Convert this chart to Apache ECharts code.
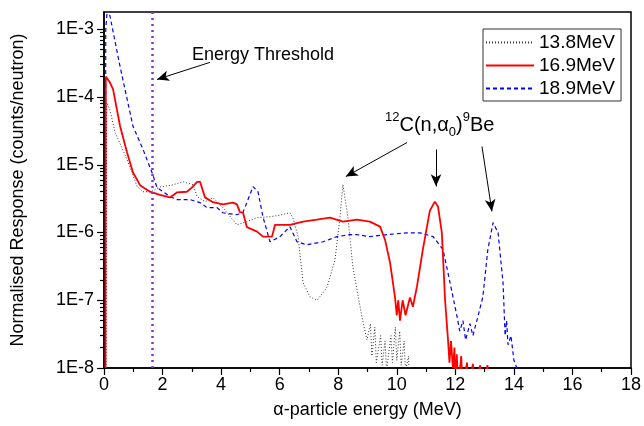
<!DOCTYPE html>
<html>
<head>
<meta charset="utf-8">
<script src="https://cdn.jsdelivr.net/npm/echarts@6/dist/echarts.min.js"></script>
<style>
  html, body { margin: 0; padding: 0; background: #fff; }
  #main { width: 644px; height: 426px; }
</style>
</head>
<body>
<div id="main"></div>
<script>
// series names (legend)
var seriesNames = ["13.8MeV", "16.9MeV", "18.9MeV"];

// [alpha energy MeV, counts/neutron]
var data138 = [
  [0.07, 1e-8], [0.09, 8.3e-5], [0.2, 6.5e-5], [0.38, 3.0e-5], [0.79, 1.19e-5],
  [1.13, 4.8e-6], [1.33, 4.0e-6], [1.6, 4.0e-6], [1.91, 4.7e-6], [2.3, 5.0e-6],
  [2.7, 5.6e-6], [3.04, 5.1e-6], [3.18, 3.4e-6], [3.45, 2.86e-6], [3.72, 3.27e-6],
  [4.06, 2.33e-6], [4.54, 1.3e-6], [4.88, 1.45e-6], [5.23, 1.66e-6], [5.67, 1.71e-6],
  [6.0, 1.8e-6], [6.35, 1.96e-6], [6.45, 1.66e-6], [6.63, 8.7e-7], [6.8, 1.81e-7],
  [7.04, 1.12e-7], [7.27, 1.0e-7], [7.48, 1.29e-7], [7.62, 1.58e-7], [7.72, 2.2e-7],
  [7.89, 3.96e-7], [8.06, 1.7e-6], [8.16, 5.1e-6], [8.33, 1.7e-6], [8.5, 3.1e-7],
  [8.81, 5.7e-8], [8.98, 2.6e-8], [9.1, 4.5e-8], [9.15, 1.5e-8], [9.25, 4e-8],
  [9.3, 1.2e-8], [9.45, 3e-8], [9.5, 1.1e-8], [9.6, 2.5e-8], [9.65, 9e-9],
  [9.8, 3e-8], [9.85, 1.2e-8], [9.95, 4e-8], [10.0, 1.3e-8], [10.1, 3.5e-8],
  [10.15, 1.1e-8], [10.25, 2.5e-8], [10.3, 9e-9], [10.4, 1.5e-8], [10.45, 5e-9]
];

var data169 = [
  [0.05, 1e-8], [0.06, 2.0e-4], [0.12, 1.9e-4], [0.2, 1.65e-4], [0.31, 1.3e-4],
  [0.38, 9e-5], [0.55, 3.7e-5], [0.79, 1.5e-5], [0.99, 7.7e-6], [1.13, 6.0e-6],
  [1.23, 5.0e-6], [1.57, 4.0e-6], [1.91, 3.6e-6], [2.25, 3.3e-6], [2.49, 3.9e-6],
  [2.83, 4.0e-6], [3.0, 4.6e-6], [3.18, 5.6e-6], [3.28, 5.6e-6], [3.45, 3.3e-6],
  [3.72, 2.8e-6], [4.06, 2.6e-6], [4.41, 2.76e-6], [4.54, 2.6e-6], [4.64, 2.0e-6],
  [4.75, 1.96e-6], [4.88, 1.2e-6], [5.23, 1.03e-6], [5.43, 8.7e-7], [5.74, 8.7e-7],
  [5.84, 1.3e-6], [6.35, 1.3e-6], [6.8, 1.45e-6], [7.27, 1.55e-6], [7.72, 1.66e-6],
  [8.16, 1.45e-6], [8.64, 1.55e-6], [9.08, 1.45e-6], [9.43, 1.22e-6], [9.6, 7.8e-7],
  [9.77, 3.6e-7], [9.94, 1.1e-7], [10.0, 6e-8], [10.05, 1.0e-7], [10.11, 5e-8],
  [10.2, 1.0e-7], [10.3, 6e-8], [10.45, 1.1e-7], [10.55, 8e-8], [10.69, 1.6e-7],
  [10.89, 5.6e-7], [11.13, 2.1e-6], [11.3, 2.86e-6], [11.41, 2.4e-6], [11.54, 9.9e-7],
  [11.65, 1.0e-7], [11.75, 2.6e-8], [11.8, 1.2e-8], [11.85, 2.5e-8], [11.92, 1.0e-8],
  [11.97, 2e-8], [12.0, 5e-9], [12.05, 1.6e-8], [12.1, 5e-9], [12.2, 1.5e-8],
  [12.25, 5e-9], [12.4, 1.2e-8], [12.45, 5e-9], [12.6, 1.15e-8], [12.65, 5e-9],
  [12.85, 1.1e-8], [12.9, 5e-9], [13.1, 1.1e-8], [13.15, 5e-9]
];

var data189 = [
  [0.05, 1e-8], [0.06, 1.0e-3], [0.1, 1.7e-3], [0.2, 1.6e-3], [0.55, 2.8e-4],
  [0.99, 3.7e-5], [1.33, 1.7e-5], [1.64, 7.7e-6], [1.81, 4.6e-6], [2.25, 3.4e-6],
  [2.49, 3.06e-6], [2.94, 3.06e-6], [3.28, 2.76e-6], [3.52, 2.33e-6], [3.86, 2.33e-6],
  [4.06, 1.96e-6], [4.54, 1.83e-6], [4.75, 2.0e-6], [4.88, 2.76e-6], [5.09, 4.76e-6],
  [5.26, 4.0e-6], [5.43, 1.7e-6], [5.67, 7.3e-7], [6.01, 8.7e-7], [6.35, 1.22e-6],
  [6.59, 7.3e-7], [6.93, 6.6e-7], [7.48, 7.3e-7], [7.96, 8.7e-7], [8.4, 9.3e-7],
  [8.64, 9.3e-7], [9.08, 8.7e-7], [9.67, 9.3e-7], [10.35, 9.9e-7], [10.79, 9.9e-7],
  [11.24, 8.7e-7], [11.58, 5.6e-7], [11.82, 1.81e-7], [12.06, 5.7e-8], [12.15, 3.5e-8],
  [12.26, 5e-8], [12.35, 2.6e-8], [12.5, 4.5e-8], [12.6, 3e-8], [12.74, 5.1e-8],
  [12.94, 1.12e-7], [13.11, 5.6e-7], [13.29, 1.4e-6], [13.46, 9.9e-7], [13.63, 1.8e-7],
  [13.7, 3e-8], [13.75, 5e-8], [13.8, 2.2e-8], [13.9, 3e-8], [14.0, 1.3e-8],
  [14.1, 1e-8], [14.15, 5e-9]
];

// threshold line and annotation arrows [from, to]
var thresholdEnergy = 1.64;
var thresholdArrow = [[3.62, 3.25e-4], [1.81, 1.82e-4]];
var peakArrows = [
  [[10.35, 2.13e-5], [8.26, 6.7e-6]],
  [[11.34, 1.68e-5], [11.34, 4.8e-6]],
  [[12.91, 1.86e-5], [13.25, 2.05e-6]]
];

// axis ticks
var xTicks = [0, 18, 2];
var yMajor = [1e-8, 1e-7, 1e-6, 1e-5, 1e-4, 1e-3];
var yMin = 1e-8, yMax = 1.8e-3;

(function() {
  var myChart = echarts.init(document.getElementById("main"));
  var font = "Liberation Sans, Arial, sans-serif";

  var yMinor = [];
  yMajor.forEach(function(d) {
    for (var k = 2; k <= 9; k++) {
      if (d * k < yMax) yMinor.push(d * k);
    }
  });

  var toLines = function(pairs) {
    return pairs.map(function(p) {
      return [{ coord: p[0] }, { coord: p[1] }];
    });
  };

  var option = {
    animation: false,
    backgroundColor: "#fff",
    grid: {
      left: 104, right: 13, top: 12, bottom: 58,
      show: true, borderColor: "#000", borderWidth: 1.5,
      outerBoundsMode: "none"
    },
    legend: {
      data: seriesNames,
      orient: "vertical",
      left: 483, top: 29,
      padding: [4, 6, 3, 2],
      itemWidth: 48, itemHeight: 12, itemGap: 4,
      borderColor: "#333", borderWidth: 1,
      // line only, no marker in the middle
      itemStyle: { opacity: 0 },
      textStyle: { fontFamily: font, fontSize: 19, color: "#000" }
    },
    xAxis: {
      type: "value",
      min: xTicks[0], max: xTicks[1], interval: xTicks[2],
      name: "α-particle energy (MeV)",
      nameLocation: "middle", nameGap: 33,
      nameTextStyle: { fontFamily: font, fontSize: 18, color: "#000" },
      axisLine: { lineStyle: { color: "#000", width: 1.5 } },
      axisTick: { length: 7, lineStyle: { color: "#000", width: 1.2 } },
      minorTick: { show: true, splitNumber: 2, length: 4, lineStyle: { color: "#000", width: 1.2 } },
      axisLabel: { fontFamily: font, fontSize: 18, color: "#000", margin: 8 },
      splitLine: { show: false }
    },
    yAxis: [
      {
        type: "log",
        min: yMin, max: yMax,
        name: "Normalised Response (counts/neutron)",
        nameLocation: "middle", nameGap: 77,
        nameTextStyle: { fontFamily: font, fontSize: 18, color: "#000" },
        axisLine: { show: true, lineStyle: { color: "#000", width: 1.5 } },
        axisTick: { show: true, length: 7, customValues: yMajor, lineStyle: { color: "#000", width: 1.2 } },
        axisLabel: {
          fontFamily: font, fontSize: 18, color: "#000", margin: 10,
          customValues: yMajor,
          formatter: function(v) {
            return "1E" + Math.round(Math.log10(v));
          }
        },
        splitLine: { show: false }
      },
      {
        // minor log ticks only
        type: "log",
        min: yMin, max: yMax,
        position: "left",
        axisLine: { show: false },
        axisTick: { show: true, length: 4, customValues: yMinor, lineStyle: { color: "#000", width: 1.2 } },
        axisLabel: { show: false },
        splitLine: { show: false }
      }
    ],
    graphic: [
      {
        type: "text", left: 192, top: 46,
        style: { text: "Energy Threshold", fontFamily: font, fontSize: 18, fill: "#000" }
      },
      {
        type: "text", left: 385, top: 111,
        style: {
          text: "{sup|12}C(n,α{sub|0}){sup|9}Be",
          fontFamily: font, fontSize: 20, fill: "#000", lineHeight: 28,
          rich: {
            sup: { fontFamily: font, fontSize: 13, fill: "#000", verticalAlign: "top", lineHeight: 28 },
            sub: { fontFamily: font, fontSize: 13, fill: "#000", verticalAlign: "bottom", lineHeight: 28 }
          }
        }
      }
    ],
    series: [
      {
        name: seriesNames[0],
        type: "line",
        symbol: "none",
        data: data138,
        lineStyle: { color: "#333", width: 1, type: [1, 2] },
        itemStyle: { color: "#333" },
        z: 2
      },
      {
        name: seriesNames[1],
        type: "line",
        symbol: "none",
        data: data169,
        lineStyle: { color: "#ff0000", width: 1.8, type: "solid" },
        itemStyle: { color: "#ff0000" },
        z: 3,
        markLine: {
          silent: true,
          symbol: "none",
          label: { show: false },
          lineStyle: { color: "#8a2be2", width: 2.5, type: [2, 4] },
          data: [{ xAxis: thresholdEnergy }]
        }
      },
      {
        name: seriesNames[2],
        type: "line",
        symbol: "none",
        data: data189,
        lineStyle: { color: "#0000ff", width: 1.2, type: [4, 3] },
        itemStyle: { color: "#0000ff" },
        z: 2,
        markLine: {
          silent: true,
          symbol: ["none", "arrow"],
          symbolSize: [8, 12],
          label: { show: false },
          lineStyle: { color: "#000", width: 1, type: "solid" },
          data: toLines([thresholdArrow].concat(peakArrows))
        }
      }
    ]
  };
  myChart.setOption(option);
})();
</script>
</body>
</html>
